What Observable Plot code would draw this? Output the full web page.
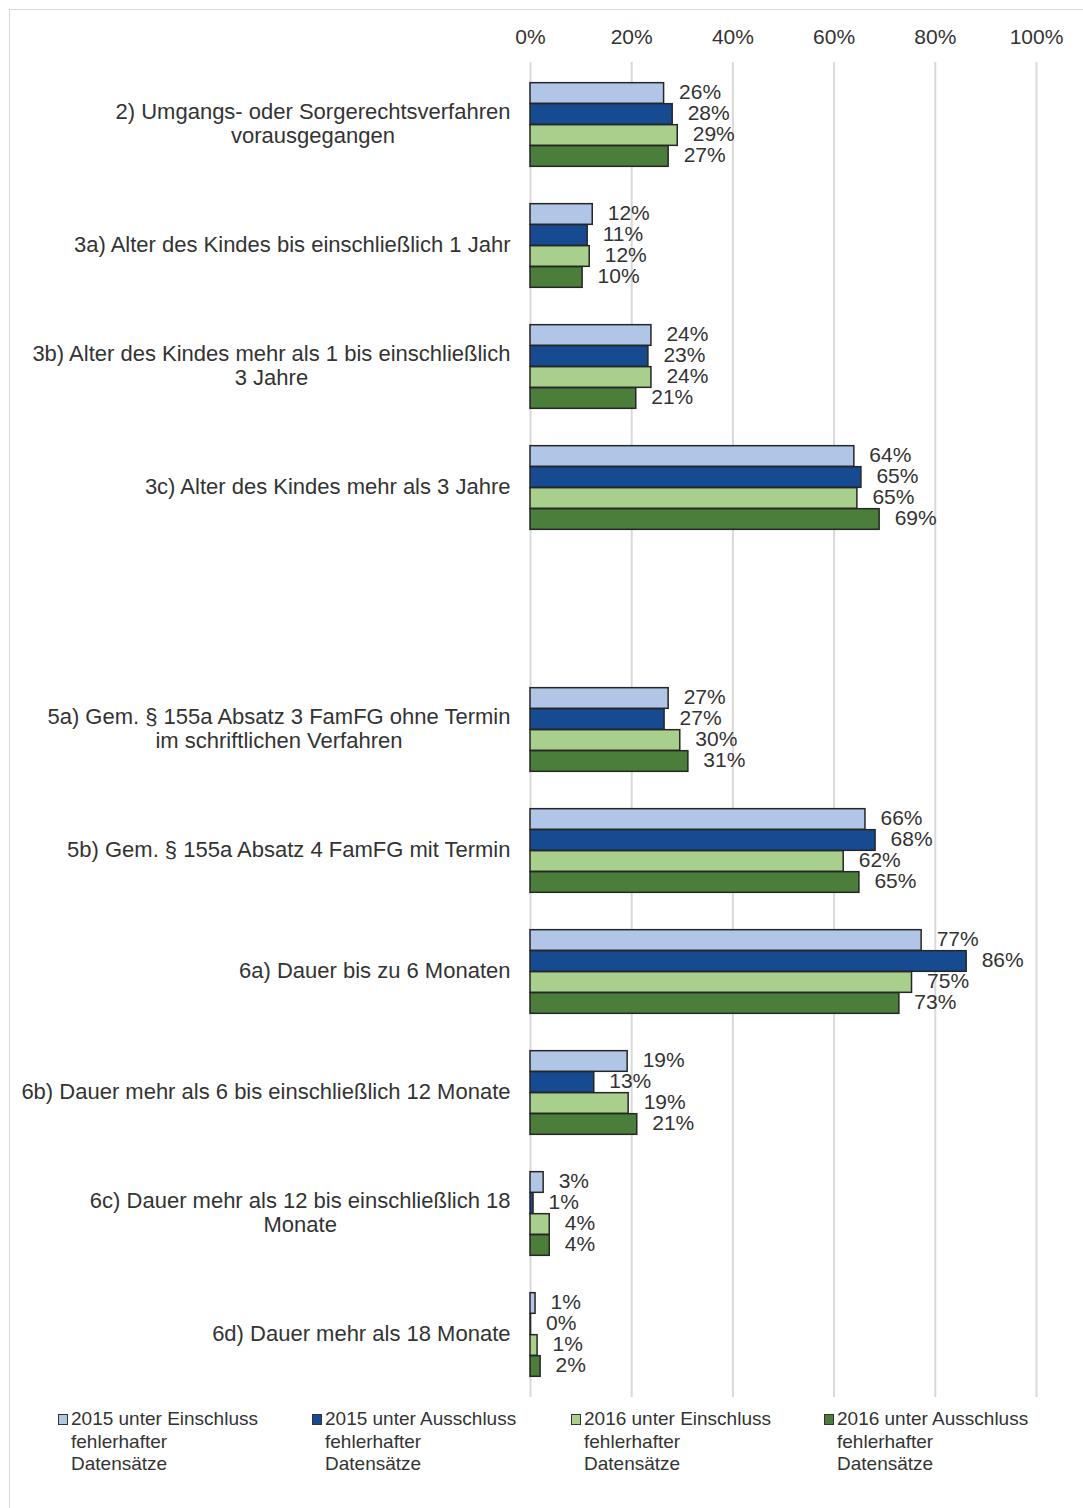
<!DOCTYPE html>
<html>
<head>
<meta charset="utf-8">
<script src="https://cdn.jsdelivr.net/npm/d3@7"></script>
<script src="https://cdn.jsdelivr.net/npm/@observablehq/plot@0.6"></script>
<style>
  html, body { margin: 0; padding: 0; background: #fff; overflow: hidden; }
  body { width: 1083px; height: 1508px; position: relative; font-family: "Liberation Sans", Arial, sans-serif; }
  #frame { position: absolute; left: 9px; top: 9px; width: 1200px; height: 1600px; border: 1px solid #d9d9d9; }
  #chart { position: absolute; left: 0; top: 0; }
  #legend { position: absolute; left: 58px; top: 1408px; display: flex; }
  .item { width: 254px; display: flex; align-items: flex-start; font-size: 19px; line-height: 22.5px; color: #333; }
  .item:nth-child(2) { width: 259px; }
  .item:nth-child(3) { width: 253px; }
  .sw { width: 8px; height: 9px; border: 1.5px solid #333; margin-top: 5.5px; margin-right: 3px; flex: none; }
  .lab { white-space: pre-line; }
</style>
</head>
<body>
<div id="frame"></div>
<div id="chart"></div>
<div id="legend"></div>
<script>
// ---- data ----
const categories = ["2", "3a", "3b", "3c", "4", "5a", "5b", "6a", "6b", "6c", "6d"];
const categoryLabels = [
  "2) Umgangs- oder Sorgerechtsverfahren\nvorausgegangen",
  "3a) Alter des Kindes bis einschließlich 1 Jahr",
  "3b) Alter des Kindes mehr als 1 bis einschließlich\n3 Jahre",
  "3c) Alter des Kindes mehr als 3 Jahre",
  "",
  "5a) Gem. § 155a Absatz 3 FamFG ohne Termin\nim schriftlichen Verfahren",
  "5b) Gem. § 155a Absatz 4 FamFG mit Termin",
  "6a) Dauer bis zu 6 Monaten",
  "6b) Dauer mehr als 6 bis einschließlich 12 Monate",
  "6c) Dauer mehr als 12 bis einschließlich 18\nMonate",
  "6d) Dauer mehr als 18 Monate"
];
const seriesNames = [
  "2015 unter Einschluss\nfehlerhafter\nDatensätze",
  "2015 unter Ausschluss\nfehlerhafter\nDatensätze",
  "2016 unter Einschluss\nfehlerhafter\nDatensätze",
  "2016 unter Ausschluss\nfehlerhafter\nDatensätze"
];
const colors = ["#b1c6e6", "#164b92", "#a8cf8b", "#4a7e3a"];
// values in percent, one per category (null = empty slot)
const s2015Ein = [26.4, 12.3, 23.9, 64.0, null, 27.3, 66.2, 77.3, 19.2, 2.6, 1.0];
const s2015Aus = [28.1, 11.3, 23.3, 65.4, null, 26.5, 68.2, 86.2, 12.6, 0.6, 0.1];
const s2016Ein = [29.1, 11.7, 23.9, 64.6, null, 29.6, 61.9, 75.4, 19.4, 3.8, 1.4];
const s2016Aus = [27.3, 10.3, 20.9, 69.0, null, 31.2, 65.0, 72.9, 21.1, 3.8, 2.0];
const seriesValues = [s2015Ein, s2015Aus, s2016Ein, s2016Aus];
const xTicks = [0, 20, 40, 60, 80, 100];

// ---- layout ----
const barH = 21;
const labelMap = new Map(categories.map((c, i) => [c, categoryLabels[i]]));
const height = 1397, marginTop = 62, marginBottom = 0;
const band = (height - marginTop - marginBottom) / categories.length;
const inset = (band - barH) / 2;

const marks = [
  Plot.gridX(xTicks, {stroke: "#d9d9d9", strokeOpacity: 1, strokeWidth: 2}),
  Plot.axisX({anchor: "top", ticks: xTicks, tickSize: 0, tickPadding: 19, tickFormat: d => d + "%", fontSize: 21, fill: "#333", label: null}),
  Plot.axisY({tickSize: 0, tickPadding: 20, tickFormat: d => labelMap.get(d), fontSize: 22, lineHeight: 1.12, dy: -2, fill: "#333", label: null})
];
seriesValues.forEach((vals, s) => {
  const rows = categories.map((c, i) => ({cat: c, v: vals[i]})).filter(d => d.v != null);
  const dy = (s - 1.5) * barH;
  marks.push(Plot.barX(rows, {x: "v", y: "cat", fill: colors[s], stroke: "#262626", strokeWidth: 1.5, insetTop: inset, insetBottom: inset, dy}));
  marks.push(Plot.text(rows, {x: "v", y: "cat", text: d => Math.round(d.v) + "%", textAnchor: "start", dx: 15, dy: dy - 1, fontSize: 21, fill: "#333"}));
});

const chart = Plot.plot({
  width: 1083,
  height,
  marginTop,
  marginBottom,
  marginLeft: 530,
  marginRight: 47,
  style: {fontFamily: "'Liberation Sans', Arial, sans-serif", background: "transparent"},
  x: {domain: [0, 100]},
  y: {domain: categories, padding: 0, axis: null},
  marks
});
document.getElementById("chart").appendChild(chart);

// center multi-line category labels on their longest line
chart.querySelectorAll('g[aria-label="y-axis tick label"] text').forEach(t => {
  const spans = Array.from(t.querySelectorAll("tspan"));
  if (spans.length < 2) return;
  const widths = spans.map(s => s.getComputedTextLength());
  const maxW = Math.max(...widths);
  spans.forEach((s, i) => s.setAttribute("x", -(maxW - widths[i]) / 2));
});

// legend
const legend = document.getElementById("legend");
seriesNames.forEach((name, i) => {
  const item = document.createElement("div");
  item.className = "item";
  const sw = document.createElement("div");
  sw.className = "sw";
  sw.style.background = colors[i];
  const lab = document.createElement("div");
  lab.className = "lab";
  lab.textContent = name;
  item.appendChild(sw);
  item.appendChild(lab);
  legend.appendChild(item);
});
</script>
</body>
</html>
